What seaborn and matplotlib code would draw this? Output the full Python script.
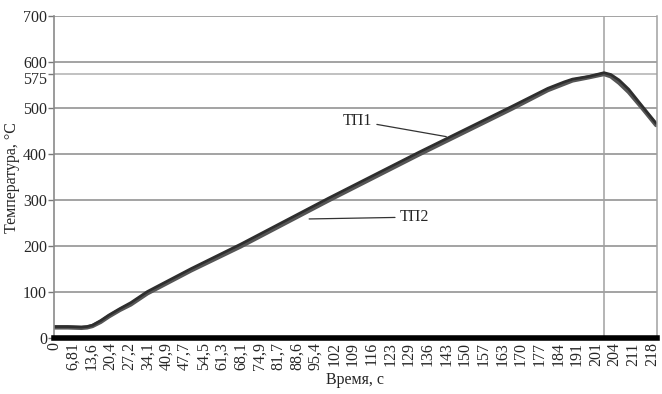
import pandas as pd
import matplotlib
matplotlib.use('Agg')
import matplotlib.pyplot as plt
import matplotlib.transforms as mtransforms
import seaborn as sns

sns.set_style('white')
plt.rcParams['font.family'] = ['Liberation Serif', 'DejaVu Serif']

# данные
time_s = [0, 5, 10, 12, 14, 17, 20, 24, 28, 34, 50, 68, 100, 133, 167, 180,
          186, 189, 195, 200.5, 203, 206, 209.5, 214.6, 219.5]
tp1 = [25, 25, 24, 25, 28, 38, 50, 64, 77, 101, 151, 204, 304, 404, 504, 543,
       557, 563, 569, 577, 573, 561, 541, 503, 467]
tp2 = [23, 23, 22, 23, 26, 35, 47, 61, 73, 97, 147, 199, 299, 399, 499, 539,
       553, 560, 567, 574, 569, 555, 535, 499, 463]

tick_pos = [i * 6.81 for i in range(33)]
tick_labels = ['0', '6,81', '13,6', '20,4', '27,2', '34,1', '40,9', '47,7',
               '54,5', '61,3', '68,1', '74,9', '81,7', '88,6', '95,4', '102',
               '109', '116', '123', '129', '136', '143', '150', '157', '163',
               '170', '177', '184', '191', '201', '204', '211', '218']
y_ticks = [0, 100, 200, 300, 400, 500, 575, 600, 700]

df = pd.DataFrame({'t': time_s, 'ТП1': tp1, 'ТП2': tp2})

fig = plt.figure(figsize=(6.62, 3.94), dpi=100)
ax = fig.add_axes([0.0816, 0.142, 0.9108, 0.817])

for y in y_ticks:
    c = '#b0b0b0' if y == 575 else '#8a8a8a'
    ax.axhline(y, color=c, lw=1.1, zorder=0)
ax.axvline(200.5, color='#a0a0a0', lw=1.1, zorder=0)

sns.lineplot(data=df, x='t', y='ТП2', ax=ax, color='#555555', lw=3.0)
sns.lineplot(data=df, x='t', y='ТП1', ax=ax, color='#2e2e2e', lw=2.0)

fs = 11.5
ax.set_xlim(0, 219.8)
ax.set_ylim(0, 700)
ax.set_yticks(y_ticks)
ax.set_yticklabels([str(y) for y in y_ticks], fontsize=fs)
ax.set_xticks(tick_pos)
ax.set_xticklabels(tick_labels, rotation=90, fontsize=fs)
ax.tick_params(axis='x', length=0, pad=3)
ax.tick_params(axis='y', length=4, width=1, color='#777777', pad=1, left=True)

# подпись 575 чуть ниже, чтобы не наезжала на 600
lbl575 = ax.get_yticklabels()[6]
lbl575.set_transform(lbl575.get_transform() +
                     mtransforms.ScaledTranslation(0, -4 / 100, fig.dpi_scale_trans))

ax.set_xlabel('Время, с', fontsize=fs, labelpad=1)
ax.set_ylabel('Температура, °С', fontsize=fs, labelpad=2)

ax.spines['top'].set_visible(False)
ax.spines['left'].set_color('#8a8a8a')
ax.spines['left'].set_linewidth(1.2)
ax.spines['right'].set_color('#a0a0a0')
ax.spines['right'].set_linewidth(1.1)
ax.spines['bottom'].set_color('black')
ax.spines['bottom'].set_linewidth(4)

ax.annotate('ТП1', xy=(143, 438), xytext=(116, 472), fontsize=fs,
            ha='right', va='center',
            arrowprops=dict(arrowstyle='-', color='#333333', lw=0.9,
                            shrinkA=1, shrinkB=0))
ax.annotate('ТП2', xy=(93, 259), xytext=(126, 263), fontsize=fs,
            ha='left', va='center',
            arrowprops=dict(arrowstyle='-', color='#333333', lw=0.9,
                            shrinkA=1, shrinkB=0))

plt.savefig('out.png', dpi=100)
